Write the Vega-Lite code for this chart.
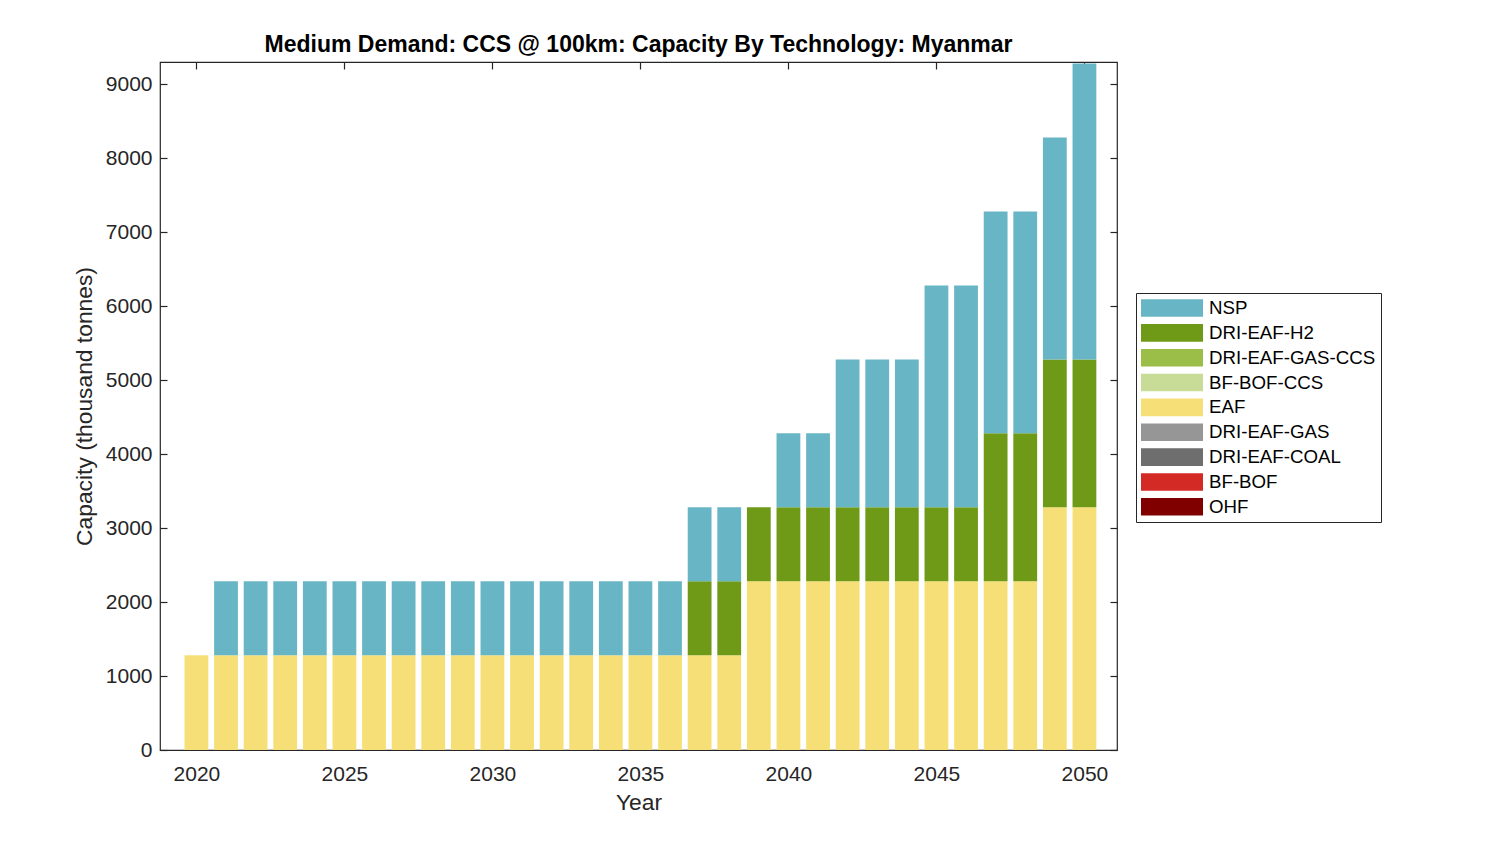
{
  "$schema": "https://vega.github.io/schema/vega-lite/v6.json",
  "autosize": "none",
  "padding": {"left": 160, "top": 62, "right": 383, "bottom": 94},
  "width": 957,
  "height": 688,
  "background": "white",
  "config": {
    "font": "Liberation Sans",
    "view": {"stroke": "#262626", "strokeWidth": 1.2},
    "axis": {"grid": false, "domain": false, "tickColor": "#262626", "tickSize": -7, "tickWidth": 1.2, "labelColor": "#262626", "labelFontSize": 21, "titleColor": "#262626", "titleFontSize": 22.8, "titleFontWeight": "normal", "labelFont": "Liberation Sans", "titleFont": "Liberation Sans"}
  },
  "title": {"text": "Medium Demand: CCS @ 100km: Capacity By Technology: Myanmar", "fontSize": 23, "fontWeight": "bold", "color": "#000000", "offset": 4, "font": "Liberation Sans"},
  "data": {"values": [
    {"year": 2020, "tech": "EAF", "value": 1280},
    {"year": 2021, "tech": "EAF", "value": 1280}, {"year": 2021, "tech": "NSP", "value": 1000},
    {"year": 2022, "tech": "EAF", "value": 1280}, {"year": 2022, "tech": "NSP", "value": 1000},
    {"year": 2023, "tech": "EAF", "value": 1280}, {"year": 2023, "tech": "NSP", "value": 1000},
    {"year": 2024, "tech": "EAF", "value": 1280}, {"year": 2024, "tech": "NSP", "value": 1000},
    {"year": 2025, "tech": "EAF", "value": 1280}, {"year": 2025, "tech": "NSP", "value": 1000},
    {"year": 2026, "tech": "EAF", "value": 1280}, {"year": 2026, "tech": "NSP", "value": 1000},
    {"year": 2027, "tech": "EAF", "value": 1280}, {"year": 2027, "tech": "NSP", "value": 1000},
    {"year": 2028, "tech": "EAF", "value": 1280}, {"year": 2028, "tech": "NSP", "value": 1000},
    {"year": 2029, "tech": "EAF", "value": 1280}, {"year": 2029, "tech": "NSP", "value": 1000},
    {"year": 2030, "tech": "EAF", "value": 1280}, {"year": 2030, "tech": "NSP", "value": 1000},
    {"year": 2031, "tech": "EAF", "value": 1280}, {"year": 2031, "tech": "NSP", "value": 1000},
    {"year": 2032, "tech": "EAF", "value": 1280}, {"year": 2032, "tech": "NSP", "value": 1000},
    {"year": 2033, "tech": "EAF", "value": 1280}, {"year": 2033, "tech": "NSP", "value": 1000},
    {"year": 2034, "tech": "EAF", "value": 1280}, {"year": 2034, "tech": "NSP", "value": 1000},
    {"year": 2035, "tech": "EAF", "value": 1280}, {"year": 2035, "tech": "NSP", "value": 1000},
    {"year": 2036, "tech": "EAF", "value": 1280}, {"year": 2036, "tech": "NSP", "value": 1000},
    {"year": 2037, "tech": "EAF", "value": 1280}, {"year": 2037, "tech": "DRI-EAF-H2", "value": 1000}, {"year": 2037, "tech": "NSP", "value": 1000},
    {"year": 2038, "tech": "EAF", "value": 1280}, {"year": 2038, "tech": "DRI-EAF-H2", "value": 1000}, {"year": 2038, "tech": "NSP", "value": 1000},
    {"year": 2039, "tech": "EAF", "value": 2280}, {"year": 2039, "tech": "DRI-EAF-H2", "value": 1000},
    {"year": 2040, "tech": "EAF", "value": 2280}, {"year": 2040, "tech": "DRI-EAF-H2", "value": 1000}, {"year": 2040, "tech": "NSP", "value": 1000},
    {"year": 2041, "tech": "EAF", "value": 2280}, {"year": 2041, "tech": "DRI-EAF-H2", "value": 1000}, {"year": 2041, "tech": "NSP", "value": 1000},
    {"year": 2042, "tech": "EAF", "value": 2280}, {"year": 2042, "tech": "DRI-EAF-H2", "value": 1000}, {"year": 2042, "tech": "NSP", "value": 2000},
    {"year": 2043, "tech": "EAF", "value": 2280}, {"year": 2043, "tech": "DRI-EAF-H2", "value": 1000}, {"year": 2043, "tech": "NSP", "value": 2000},
    {"year": 2044, "tech": "EAF", "value": 2280}, {"year": 2044, "tech": "DRI-EAF-H2", "value": 1000}, {"year": 2044, "tech": "NSP", "value": 2000},
    {"year": 2045, "tech": "EAF", "value": 2280}, {"year": 2045, "tech": "DRI-EAF-H2", "value": 1000}, {"year": 2045, "tech": "NSP", "value": 3000},
    {"year": 2046, "tech": "EAF", "value": 2280}, {"year": 2046, "tech": "DRI-EAF-H2", "value": 1000}, {"year": 2046, "tech": "NSP", "value": 3000},
    {"year": 2047, "tech": "EAF", "value": 2280}, {"year": 2047, "tech": "DRI-EAF-H2", "value": 2000}, {"year": 2047, "tech": "NSP", "value": 3000},
    {"year": 2048, "tech": "EAF", "value": 2280}, {"year": 2048, "tech": "DRI-EAF-H2", "value": 2000}, {"year": 2048, "tech": "NSP", "value": 3000},
    {"year": 2049, "tech": "EAF", "value": 3280}, {"year": 2049, "tech": "DRI-EAF-H2", "value": 2000}, {"year": 2049, "tech": "NSP", "value": 3000},
    {"year": 2050, "tech": "EAF", "value": 3280}, {"year": 2050, "tech": "DRI-EAF-H2", "value": 2000}, {"year": 2050, "tech": "NSP", "value": 4000}
  ]},
  "transform": [
    {"calculate": "indexof(['OHF','BF-BOF','DRI-EAF-COAL','DRI-EAF-GAS','EAF','BF-BOF-CCS','DRI-EAF-GAS-CCS','DRI-EAF-H2','NSP'], datum.tech)", "as": "stackorder"}
  ],
  "layer": [
    {
      "mark": {"type": "bar", "size": 23.8, "clip": true},
      "encoding": {
        "x": {"field": "year", "type": "quantitative", "scale": {"domain": [2018.77, 2051.1], "nice": false, "zero": false, "padding": 0}, "axis": {"values": [2020, 2025, 2030, 2035, 2040, 2045, 2050], "format": "d", "title": "Year", "labelPadding": 20, "titlePadding": 7}},
        "y": {"field": "value", "type": "quantitative", "aggregate": "sum", "stack": "zero", "scale": {"domain": [0, 9300], "nice": false, "padding": 0}, "axis": {"values": [0, 1000, 2000, 3000, 4000, 5000, 6000, 7000, 8000, 9000], "format": "d", "title": "Capacity (thousand tonnes)", "labelPadding": 15, "titlePadding": 9}},
        "order": {"field": "stackorder", "type": "quantitative", "aggregate": "min"},
        "color": {"field": "tech", "type": "nominal", "title": null,
          "scale": {"domain": ["NSP", "DRI-EAF-H2", "DRI-EAF-GAS-CCS", "BF-BOF-CCS", "EAF", "DRI-EAF-GAS", "DRI-EAF-COAL", "BF-BOF", "OHF"],
                    "range": ["#68b6c5", "#6e9a18", "#9bbe48", "#c8dc98", "#f7df78", "#969696", "#6e6e6e", "#d42a26", "#800000"]},
          "legend": {"orient": "none", "legendX": 976, "legendY": 231, "symbolType": "M-3.1,-0.88H3.1V0.88H-3.1Z", "symbolSize": 400, "symbolOffset": 21, "symbolStrokeWidth": 0, "labelFontSize": 18.7, "labelColor": "#000000", "labelFont": "Liberation Sans", "rowPadding": 4.85, "labelOffset": 27, "strokeColor": "#262626", "padding": 5, "fillColor": "white", "symbolOpacity": 1, "labelLimit": 300}
        }
      }
    },
    {
      "mark": {"type": "bar", "size": 23.8, "opacity": 0},
      "encoding": {
        "x": {"field": "year", "type": "quantitative", "scale": {"domain": [2018.77, 2051.1], "nice": false, "zero": false, "padding": 0}, "axis": {"orient": "top", "values": [2020, 2025, 2030, 2035, 2040, 2045, 2050], "labels": false, "title": null}},
        "y": {"field": "value", "type": "quantitative", "aggregate": "sum", "stack": "zero", "scale": {"domain": [0, 9300], "nice": false, "padding": 0}, "axis": {"orient": "right", "values": [0, 1000, 2000, 3000, 4000, 5000, 6000, 7000, 8000, 9000], "labels": false, "title": null}}
      }
    }
  ],
  "resolve": {"axis": {"x": "independent", "y": "independent"}}
}
